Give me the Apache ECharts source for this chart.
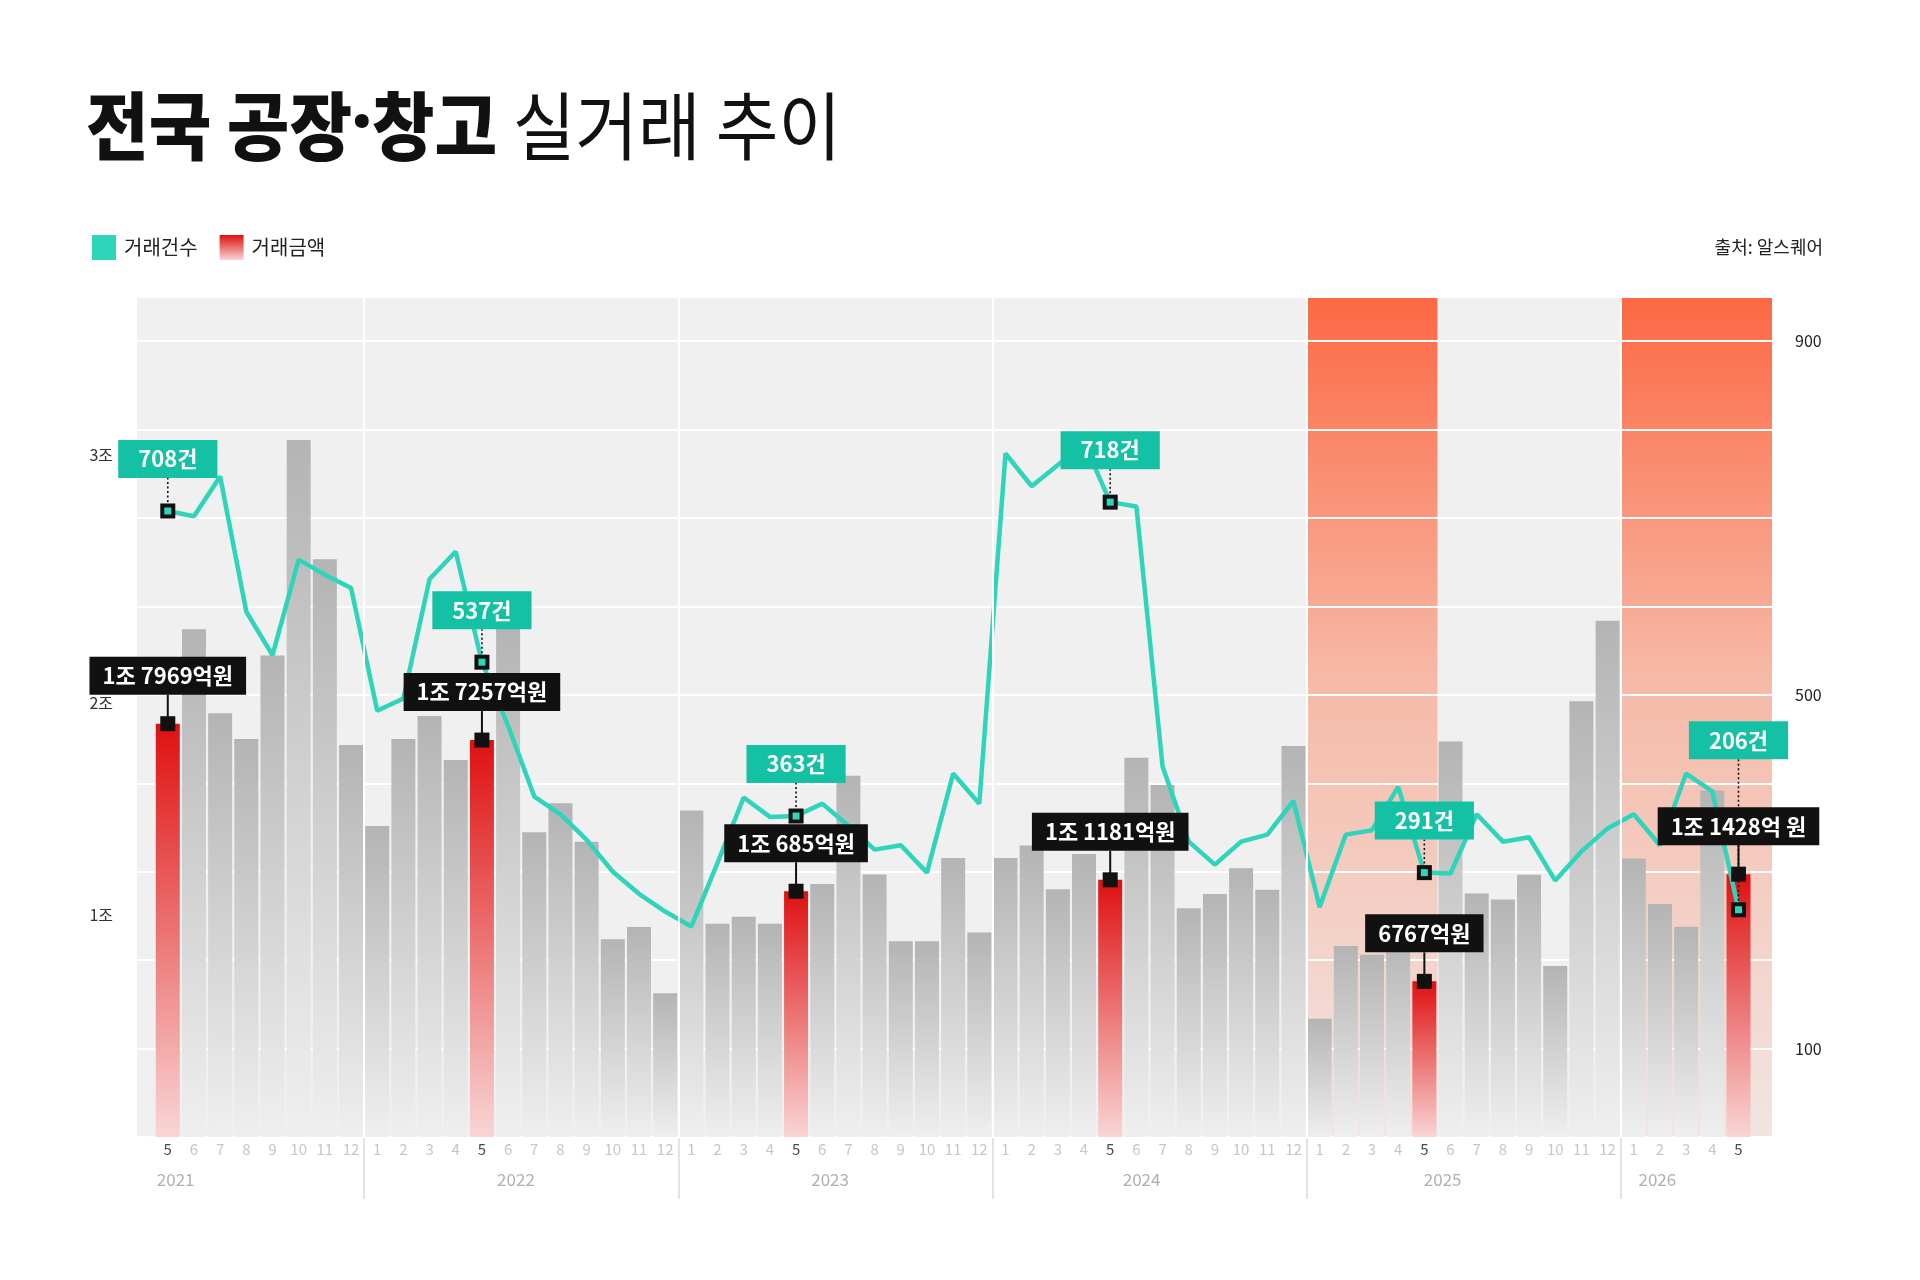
<!DOCTYPE html>
<html>
<head>
<meta charset="utf-8" />
<title>전국 공장·창고 실거래 추이</title>
<script src="https://cdn.jsdelivr.net/npm/echarts@6/dist/echarts.min.js"></script>
<style>
  html, body { margin: 0; padding: 0; background: #ffffff; }
  #main { width: 1920px; height: 1280px; }
</style>
</head>
<body>
<div id="main"></div>
<script type="text/javascript">
// 2021.5 ~ 2026.5 월별
var months = [5, 6, 7, 8, 9, 10, 11, 12,
  1, 2, 3, 4, 5, 6, 7, 8, 9, 10, 11, 12,
  1, 2, 3, 4, 5, 6, 7, 8, 9, 10, 11, 12,
  1, 2, 3, 4, 5, 6, 7, 8, 9, 10, 11, 12,
  1, 2, 3, 4, 5, 6, 7, 8, 9, 10, 11, 12,
  1, 2, 3, 4, 5];

// 거래금액 (억원)
var amounts = [17969, 22070, 18420, 17300, 20930, 30300, 25120, 17040,
  13520, 17300, 18300, 16390, 17257, 22300, 13250, 14510, 12840, 8600, 9130, 6250,
  14200, 9270, 9580, 9270, 10685, 11000, 15710, 11410, 8510, 8510, 12130, 8890,
  12130, 12670, 10770, 12300, 11181, 16490, 15300, 9950, 10560, 11680, 10750, 17000,
  5140, 8300, 7920, 8800, 6767, 17200, 10590, 10330, 11400, 7430, 18940, 22440,
  12110, 10130, 9140, 15060, 11428];

// 거래건수 (그림에 그려진 위치 기준)
var counts = [708, 702, 747, 594, 545, 653, 636, 621,
  482, 496, 631, 662, 537, 465, 385, 365, 336, 300, 275, 255,
  238, 310, 384, 362, 363, 377, 352, 325, 330, 299, 411, 377,
  773, 736, 760, 785, 718, 713, 419, 334, 308, 334, 342, 380,
  260, 342, 347, 396, 299, 298, 365, 334, 339, 290, 323, 349,
  365, 330, 411, 391, 257];

// 5월 강조
var mayIndex = [0, 12, 24, 36, 48, 60];
var amountLabels = ['1조 7969억원', '1조 7257억원', '1조 685억원', '1조 1181억원', '6767억원', '1조 1428억 원'];
var countLabels = ['708건', '537건', '363건', '718건', '291건', '206건'];

var years = ['2021', '2022', '2023', '2024', '2025', '2026'];
var yearLabelPos = [0.3, 13.3, 25.3, 37.2, 48.7, 56.9];
var yearBreaks = [7.5, 19.5, 31.5, 43.5, 55.5];
var highlightRanges = [[43.5, 48.5], [55.5, 61.28]];

var leftTicks = [10000, 20000, 30000];
var rightTicks = [100, 500, 900];

var X_MIN = -1.176, X_MAX = 61.28;
var AMT_MAX = 36520, CNT_MAX = 950;
var FONT = '"Noto Sans CJK KR", "Noto Sans", sans-serif';
var TEAL = '#2ed5bb';
var TEAL_BOX = '#15c1a5';

function vgrad(stops) {
  return new echarts.graphic.LinearGradient(0, 0, 0, 1, stops.map(function (s) {
    return { offset: s[0], color: s[1] };
  }));
}
var redGrad = vgrad([[0, '#df1010'], [1, '#f9d5d5']]);
var grayGrad = vgrad([[0, '#b4b4b5'], [1, '#efefef']]);
var bandGrad = vgrad([[0, '#fd6843'], [0.45, '#f6b9a7'], [1, '#f1e5e2']]);

var barData = amounts.map(function (v, i) {
  if (mayIndex.indexOf(i) >= 0) return { value: [i, v] };
  return { value: [i, v], itemStyle: { color: grayGrad } };
});
var lineData = counts.map(function (v, i) { return [i, v]; });
var noteData = mayIndex.map(function (i) { return [i, amounts[i], counts[i]]; });

function renderNotes(params, api) {
  var k = params.dataIndex;
  var i = api.value(0);
  var bar = api.coord([i, api.value(1)]);
  // 건수는 오른쪽 축 비율로 환산
  var pt = api.coord([i, api.value(2) * AMT_MAX / CNT_MAX]);
  var x = bar[0];
  var boxH = 38;
  var blackBottom = bar[1] - 29;
  var blackTop = blackBottom - boxH;
  var tealBottom = pt[1] - 33;
  if (tealBottom > blackTop - 8 && tealBottom - boxH < blackBottom + 8) {
    tealBottom = blackTop - 48;
  }
  var txt = { fontSize: 22, fontWeight: 'bold', fontFamily: FONT, lineHeight: 22, align: 'center', verticalAlign: 'bottom', fill: '#ffffff' };
  return {
    type: 'group',
    children: [
      { type: 'line', shape: { x1: x, y1: pt[1], x2: x, y2: tealBottom }, style: { stroke: '#111', lineWidth: 1.6, lineDash: [2, 2.5] } },
      { type: 'line', shape: { x1: x, y1: bar[1], x2: x, y2: blackBottom }, style: { stroke: '#111', lineWidth: 2 } },
      { type: 'rect', shape: { x: x - 7.5, y: bar[1] - 7.5, width: 15, height: 15 }, style: { fill: '#111' } },
      { type: 'text', style: Object.assign({ text: amountLabels[k], x: x, y: blackBottom, backgroundColor: '#111', padding: [8, 13, 8, 13] }, txt) },
      { type: 'rect', shape: { x: x - 7.5, y: pt[1] - 7.5, width: 15, height: 15 }, style: { fill: '#111' } },
      { type: 'rect', shape: { x: x - 3.5, y: pt[1] - 3.5, width: 7, height: 7 }, style: { fill: TEAL } },
      { type: 'text', style: Object.assign({ text: countLabels[k], x: x, y: tealBottom, backgroundColor: TEAL_BOX, padding: [8, 20, 8, 20] }, txt) }
    ]
  };
}

var chart = echarts.init(document.getElementById('main'));

var option = {
  animation: false,
  backgroundColor: '#ffffff',
  textStyle: { fontFamily: FONT },
  graphic: [
    {
      type: 'text', x: 86, y: 126, scaleX: 0.92,
      style: {
        text: '{b|전국 공장}{d|·}{b|창고 }{r|실거래 추이}',
        verticalAlign: 'middle',
        rich: {
          b: { fontSize: 74, fontWeight: 900, fontFamily: FONT, fill: '#111', color: '#111' },
          d: { fontSize: 74, fontWeight: 900, fontFamily: '"Noto Sans", sans-serif', fill: '#111', color: '#111' },
          r: { fontSize: 74, fontWeight: 400, fontFamily: FONT, fill: '#111', color: '#111' }
        }
      }
    },
    {
      type: 'text', x: 1823, y: 247,
      style: { text: '출처: 알스퀘어', align: 'right', verticalAlign: 'middle', fontSize: 18, fontFamily: FONT, fill: '#222' }
    }
  ],
  legend: {
    data: ['거래건수', '거래금액'],
    left: 92, top: 235,
    icon: 'rect',
    itemWidth: 24, itemHeight: 25, itemGap: 22,
    padding: 0,
    selectedMode: false,
    textStyle: { fontSize: 20, color: '#222', fontFamily: FONT, padding: [0, 0, 0, 3] }
  },
  grid: {
    left: 137, right: 148, top: 297, bottom: 143,
    show: true, backgroundColor: '#f0f0f0', borderWidth: 0
  },
  xAxis: [
    {
      type: 'value', min: X_MIN, max: X_MAX,
      axisLine: { show: false }, axisTick: { show: false }, splitLine: { show: false },
      axisLabel: {
        customValues: months.map(function (m, i) { return i; }),
        margin: 5,
        formatter: function (v) {
          var m = months[Math.round(v)];
          return m === 5 ? '{m|' + m + '}' : '{o|' + m + '}';
        },
        rich: {
          m: { fontSize: 15, color: '#4a4a4a', fontFamily: FONT },
          o: { fontSize: 15, color: '#c6c6c6', fontFamily: FONT }
        }
      }
    },
    {
      type: 'value', min: X_MIN, max: X_MAX, position: 'bottom',
      axisLine: { show: false }, splitLine: { show: false },
      axisTick: { show: true, customValues: yearBreaks, length: 62, lineStyle: { color: '#dcdcdc', width: 1.5 } },
      axisLabel: {
        customValues: yearLabelPos,
        margin: 34,
        fontSize: 17, color: '#b0b0b0', fontFamily: FONT,
        formatter: function (v) {
          var best = 0;
          for (var k = 1; k < yearLabelPos.length; k++) {
            if (Math.abs(yearLabelPos[k] - v) < Math.abs(yearLabelPos[best] - v)) best = k;
          }
          return years[best];
        }
      }
    }
  ],
  yAxis: [
    {
      type: 'value', min: 0, max: AMT_MAX, position: 'left',
      axisLine: { show: false }, axisTick: { show: false }, splitLine: { show: false },
      axisLabel: {
        customValues: leftTicks,
        margin: 24, verticalAlign: 'top',
        formatter: function (v) {
          // 2조 눈금은 주석 상자 아래로 조금 내려 표시
          return v === 20000 ? '{lo|' + (v / 10000) + '조}' : '{n|' + (v / 10000) + '조}';
        },
        rich: {
          n: { fontSize: 16, color: '#333', fontFamily: FONT, lineHeight: 16 },
          lo: { fontSize: 16, color: '#333', fontFamily: FONT, lineHeight: 16, padding: [36, 0, 0, 0] }
        }
      }
    },
    {
      type: 'value', min: 0, max: CNT_MAX, interval: 100, position: 'right', z: 1.5,
      axisLine: { show: false }, axisTick: { show: false },
      splitLine: { show: true, lineStyle: { color: '#ffffff', width: 2 } },
      axisLabel: {
        margin: 23, fontSize: 16, color: '#222', fontFamily: FONT,
        formatter: function (v) { return rightTicks.indexOf(v) >= 0 ? String(v) : ''; }
      }
    }
  ],
  series: [
    {
      name: 'band', type: 'line', data: [], z: 1, silent: true,
      markArea: {
        silent: true,
        itemStyle: { color: bandGrad },
        data: highlightRanges.map(function (r) { return [{ xAxis: r[0] }, { xAxis: r[1] }]; })
      },
      markLine: {
        silent: true, symbol: ['none', 'none'], label: { show: false },
        lineStyle: { color: '#ffffff', width: 2, type: 'solid' },
        data: yearBreaks.map(function (v) { return { xAxis: v }; })
      }
    },
    {
      name: '거래금액', type: 'bar', xAxisIndex: 0, yAxisIndex: 0, z: 2,
      barWidth: 24,
      itemStyle: { color: redGrad },
      data: barData
    },
    {
      name: '거래건수', type: 'line', xAxisIndex: 0, yAxisIndex: 1, z: 3,
      color: TEAL, symbol: 'none', smooth: false,
      lineStyle: { color: TEAL, width: 4.5 },
      data: lineData
    },
    {
      name: 'notes', type: 'custom', xAxisIndex: 0, yAxisIndex: 0, z: 5, silent: true,
      renderItem: renderNotes,
      data: noteData
    }
  ]
};

chart.setOption(option);
</script>
</body>
</html>
